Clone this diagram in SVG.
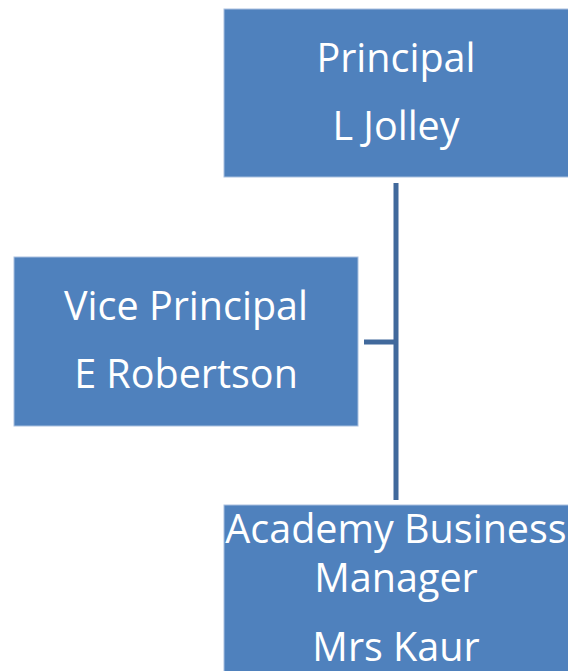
<svg xmlns="http://www.w3.org/2000/svg" width="568" height="671" viewBox="0 0 568 671">
<style>
.box{fill:#4F81BD;stroke:#A9C0DF;stroke-width:1}
.t{fill:#FFFFFF;font-family:"Open Sans","Noto Sans","DejaVu Sans",sans-serif;font-size:39.5px;text-anchor:middle}
.c{stroke:#41699C;stroke-width:5;fill:none}
</style>
<rect width="568" height="671" fill="#FFFFFF"/>
<g id="connectors">
<line class="c" x1="396" y1="183" x2="396" y2="500"/>
<line class="c" x1="364" y1="342" x2="398" y2="342"/>
</g>
<g id="principal">
<rect class="box" x="224" y="9" width="350" height="168"/>
<text class="t" x="396" y="72">Principal</text>
<text class="t" x="396" y="140">L Jolley</text>
</g>
<g id="vice-principal">
<rect class="box" x="14" y="257" width="344" height="169"/>
<text class="t" x="186" y="320">Vice Principal</text>
<text class="t" x="186" y="388">E Robertson</text>
</g>
<g id="business-manager">
<rect class="box" x="224" y="505" width="350" height="180"/>
<text class="t" x="396" y="543">Academy Business</text>
<text class="t" x="396" y="592">Manager</text>
<text class="t" x="396" y="661">Mrs Kaur</text>
</g>
</svg>
